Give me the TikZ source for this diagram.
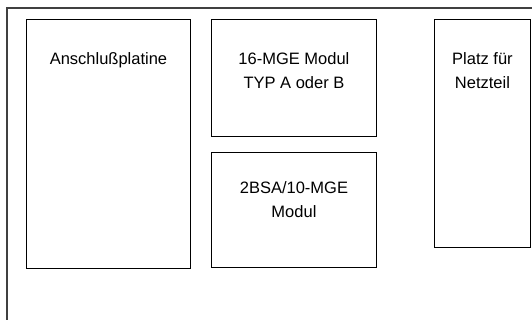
\documentclass[tikz,border=0pt]{standalone}
\usepackage{fontspec}
\setmainfont{Liberation Sans}
\usetikzlibrary{calc}
\begin{document}
\begin{tikzpicture}[x=1pt,y=-1pt,
  boxnode/.style={draw=black, line width=0.9pt, rectangle, inner sep=0pt, anchor=north west},
  lbl/.style={font=\fontsize{16.5}{24}\selectfont, align=center, anchor=base, inner sep=0pt}]
\useasboundingbox (0,0) rectangle (532,320);
% outer frame (continues beyond the picture)
\coordinate (fbl) at (7,320);
\coordinate (ftl) at (7,8);
\coordinate (ftr) at (532,8);
\draw[black!75, line width=1.1pt] (fbl) -- (ftl) -- (ftr);
% boxes
\node[boxnode, minimum width=164pt, minimum height=249pt] (anschl) at (26,19) {};
\node[boxnode, minimum width=165pt, minimum height=117pt] (mge16) at (211,19) {};
\node[boxnode, minimum width=165pt, minimum height=115pt] (bsa) at (211,152) {};
\node[boxnode, minimum width=96pt, minimum height=228pt] (netz) at (434,19) {};
% labels (anchor base = baseline of the last line)
\node[lbl] (tanschl) at ($(anschl.north)+(0,46)$) {Anschlußplatine};
\node[lbl] (tmge16) at ($(mge16.north)+(0,70)$) {16-MGE Modul\\TYP A oder B};
\node[lbl] (tbsa) at ($(bsa.north)+(0,66)$) {2BSA/10-MGE\\Modul};
\node[lbl] (tnetz) at ($(netz.north)+(0,70)$) {Platz für\\Netzteil};
\end{tikzpicture}
\end{document}
